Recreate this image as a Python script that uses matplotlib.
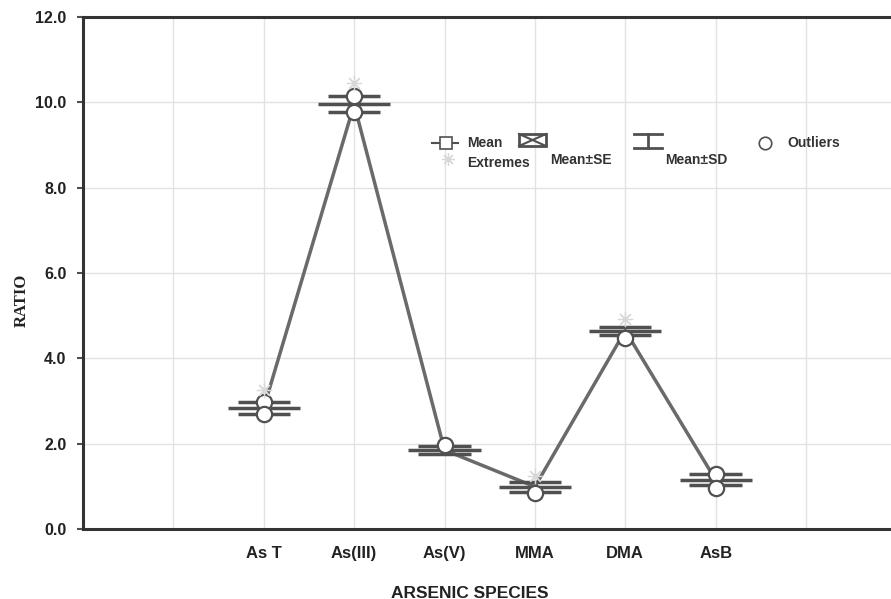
import matplotlib
matplotlib.use("Agg")
import matplotlib.pyplot as plt
import numpy as np

species = ["As T", "As(III)", "As(V)", "MMA", "DMA", "AsB"]
means = [2.84, 9.95, 1.85, 0.99, 4.65, 1.15]
upper = [2.98, 10.14, 1.95, 1.09, 4.74, 1.29]
lower = [2.70, 9.77, 1.76, 0.87, 4.55, 1.03]
outliers_hi = [2.98, 10.16, 1.97, None, None, 1.29]
outliers_lo = [2.70, 9.77, None, 0.85, 4.48, 0.96]
extremes = [3.25, 10.45, None, 1.24, 4.93, None]
yticks = [0, 2, 4, 6, 8, 10, 12]

dark = "#505050"
grid_c = "#e2e2e2"

fig = plt.figure(figsize=(8.91, 5.99), dpi=100)
ax = fig.add_axes([83/891, 1-529/599, (891-83)/891, (529-17)/599])
x = np.arange(1, len(species)+1)

ax.set_xlim(-1, 7.94)
ax.set_ylim(0, 12)
for gx in range(0, 8):
    ax.axvline(gx, color=grid_c, lw=1, zorder=0)
for gy in [2, 4, 6, 8, 10]:
    ax.axhline(gy, color=grid_c, lw=1, zorder=0)

ax.plot(x, means, color="#6a6a6a", lw=2.5, zorder=2)
ax.hlines(means, x-0.40, x+0.40, color=dark, lw=2.5, zorder=3)
ax.hlines(upper, x-0.29, x+0.29, color=dark, lw=2.5, zorder=3)
ax.hlines(lower, x-0.29, x+0.29, color=dark, lw=2.5, zorder=3)

for arr in (outliers_hi, outliers_lo):
    xs = [xi for xi, v in zip(x, arr) if v is not None]
    vs = [v for v in arr if v is not None]
    ax.plot(xs, vs, 'o', ms=11, mfc="white", mec=dark, mew=1.6, ls='none', zorder=4)
xs = [xi for xi, v in zip(x, extremes) if v is not None]
vs = [v for v in extremes if v is not None]
ax.plot(xs, vs, marker=(8, 2, 0), ms=11, color="#d8d8d8", mew=0.9, ls='none', zorder=4)

ax.set_xticks(x)
ax.set_xticklabels(species, fontsize=12, fontweight='bold', family='Liberation Sans', color='#222222')
ax.tick_params(axis='x', length=0, pad=12)
ax.set_yticks(yticks)
ax.set_yticklabels([f"{v:.1f}" for v in yticks], fontsize=11.5, fontweight='bold', family='Liberation Sans', color='#222222')
ax.tick_params(axis='y', length=4, width=1.5, color=dark, pad=8)

for name, s in ax.spines.items():
    s.set_linewidth(2.2)
    s.set_color("#333333")
ax.spines['right'].set_visible(False)

fig.text(22/891, 1-300/599, "RATIO", rotation=90, ha='center', va='center',
         fontsize=12, fontweight='bold', family='Liberation Serif', color='#222222')
fig.text(470/891, 1-593/599, "ARSENIC SPECIES", ha='center', va='center',
         fontsize=12.5, fontweight='bold', family='Liberation Sans', color='#222222')

# legend (drawn in figure pixels)
def fx(px): return px/891
def fy(py): return 1-py/599
lk = dict(fontsize=10, fontweight='bold', family='Liberation Sans', color='#333333', va='center')
fig.add_artist(plt.Line2D([fx(432), fx(458)], [fy(143), fy(143)], color=dark, lw=1.5))
fig.add_artist(plt.Line2D([fx(446)], [fy(143)], marker='s', ms=8, mfc='white', mec=dark, mew=1.2))
fig.text(fx(467), fy(143), "Mean", **lk)
fig.add_artist(plt.Line2D([fx(448)], [fy(159)], marker=(8, 2, 0), ms=9, color="#d8d8d8", mew=0.9))
fig.text(fx(467), fy(163), "Extremes", **lk)
fig.add_artist(plt.Rectangle((fx(519), fy(146)), fx(27), 12/599, fill=False, ec=dark, lw=2))
fig.add_artist(plt.Line2D([fx(519), fx(546)], [fy(134), fy(146)], color=dark, lw=1.5))
fig.add_artist(plt.Line2D([fx(519), fx(546)], [fy(146), fy(134)], color=dark, lw=1.5))
fig.text(fx(550), fy(160), "Mean±SE", **lk)
fig.add_artist(plt.Line2D([fx(634), fx(662)], [fy(134), fy(134)], color=dark, lw=2))
fig.add_artist(plt.Line2D([fx(634), fx(662)], [fy(148), fy(148)], color=dark, lw=2))
fig.add_artist(plt.Line2D([fx(648), fx(648)], [fy(134), fy(148)], color=dark, lw=2))
fig.text(fx(665), fy(160), "Mean±SD", **lk)
fig.add_artist(plt.Line2D([fx(765)], [fy(143)], marker='o', ms=9, mfc='white', mec=dark, mew=1.2))
fig.text(fx(787), fy(143), "Outliers", **lk)

fig.savefig("out.png", dpi=100, facecolor='white')
